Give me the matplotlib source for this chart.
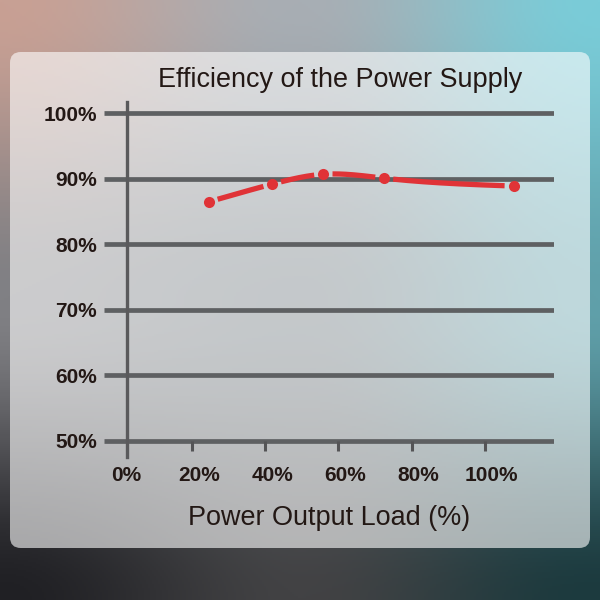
import numpy as np
import matplotlib
matplotlib.use("Agg")
import matplotlib.pyplot as plt
from matplotlib.patches import FancyBboxPatch
from matplotlib.transforms import ScaledTranslation

# ---- data ----
load_pct = [22.7, 40.0, 54.0, 70.6, 106.0]
efficiency_pct = [86.5, 89.2, 90.7, 90.1, 88.9]
x_ticks = [0, 20, 40, 60, 80, 100]
x_tick_labels = ["0%", "20%", "40%", "60%", "80%", "100%"]
y_ticks = [50, 60, 70, 80, 90, 100]
y_tick_labels = ["50%", "60%", "70%", "80%", "90%", "100%"]
title = "Efficiency of the Power Supply"
x_label = "Power Output Load (%)"

W = H = 600
fig = plt.figure(figsize=(6, 6), dpi=100)

# ---- background gradient ----
bg = fig.add_axes([0, 0, 1, 1], zorder=-10)
bg.axis("off")
grid = np.array([
    [[200, 160, 148], [168, 174, 180], [122, 204, 216]],
    [[128, 128, 132], [110, 120, 126], [96, 160, 170]],
    [[32, 32, 36], [66, 66, 68], [28, 58, 62]],
], dtype=float) / 255.0
n = 300
u = np.linspace(0, 1, n)
v = np.linspace(0, 1, n)
U, V = np.meshgrid(u, v)
def interp_axis(t):
    s = np.clip(t * 2, 0, 2)
    i = np.minimum(s.astype(int), 1)
    f = s - i
    f = f * f * (3 - 2 * f)
    return i, f
iu, fu = interp_axis(U)
iv, fv = interp_axis(V)
img = np.zeros((n, n, 3))
for c in range(3):
    g = grid[:, :, c]
    a = g[iv, iu] * (1 - fu) + g[iv, iu + 1] * fu
    b = g[iv + 1, iu] * (1 - fu) + g[iv + 1, iu + 1] * fu
    img[:, :, c] = a * (1 - fv) + b * fv
bg.imshow(img, extent=[0, 1, 0, 1], origin="upper", aspect="auto")
bg.set_xlim(0, 1); bg.set_ylim(0, 1)

# ---- frosted panel ----
px = lambda p: p / W
panel = FancyBboxPatch((px(10), 1 - px(548)), px(580), px(496),
                       boxstyle="round,pad=0,rounding_size=0.018",
                       transform=fig.transFigure, facecolor="white",
                       edgecolor="none", alpha=0.6, zorder=-5)
fig.patches.append(panel)

# ---- main axes ----
ax = fig.add_axes([px(104), 1 - px(460), px(450), px(360)])
ax.patch.set_alpha(0)
x0_px, x_scale = 125.8, 3.66
y50_px, y_scale = 441.0, 6.554
ax.set_xlim((104 - x0_px) / x_scale, (554 - x0_px) / x_scale)
ax.set_ylim(50 - (460 - y50_px) / y_scale, 50 + (y50_px - 100) / y_scale)

text_color = "#231815"
grid_color = "#5e6062"

for yt in y_ticks:
    ax.axhline(yt, color=grid_color, lw=3.4, zorder=1, solid_capstyle="butt")

for s in ["top", "right"]:
    ax.spines[s].set_visible(False)
ax.spines["bottom"].set_position(("data", 50))
ax.spines["bottom"].set_visible(False)
ax.spines["left"].set_position(("data", 0.4))
ax.spines["left"].set_bounds(50 - 16 / y_scale, 50 + (y50_px - 102) / y_scale)
ax.spines["left"].set_color("#5a5a5c")
ax.spines["left"].set_linewidth(2.4)
ax.spines["left"].set_zorder(2)

ax.set_yticks(y_ticks, y_tick_labels)
ax.set_xticks(x_ticks, x_tick_labels)
ax.tick_params(axis="y", length=0, pad=21.8, labelsize=15, labelcolor=text_color)
ax.tick_params(axis="x", direction="out", length=7.5, width=2.2, color="#545456",
               pad=10.6, labelsize=15, labelcolor=text_color)
for lab in ax.get_xticklabels() + ax.get_yticklabels():
    lab.set_fontfamily(["Liberation Sans", "DejaVu Sans"])
    lab.set_fontweight("bold")

off = ScaledTranslation(-7 / 100, 0, fig.dpi_scale_trans)
for i, tk in enumerate(ax.xaxis.get_major_ticks()):
    if i == 0:
        tk.tick1line.set_visible(False)
    else:
        tk.tick1line.set_transform(tk.tick1line.get_transform() + off)

# ---- smooth curve with gaps around markers ----
xs = np.array(load_pct); ys = np.array(efficiency_pct)
def natural_spline(x, y, xq):
    nn = len(x); h = np.diff(x)
    A = np.zeros((nn, nn)); r = np.zeros(nn)
    A[0, 0] = A[-1, -1] = 1
    for i in range(1, nn - 1):
        A[i, i - 1] = h[i - 1]; A[i, i] = 2 * (h[i - 1] + h[i]); A[i, i + 1] = h[i]
        r[i] = 3 * ((y[i + 1] - y[i]) / h[i] - (y[i] - y[i - 1]) / h[i - 1])
    c = np.linalg.solve(A, r)
    b = (np.diff(y) / h) - h * (2 * c[:-1] + c[1:]) / 3
    d = np.diff(c) / (3 * h)
    k = np.clip(np.searchsorted(x, xq) - 1, 0, nn - 2)
    t = xq - x[k]
    return y[k] + b[k] * t + c[k] * t ** 2 + d[k] * t ** 3
xq = np.linspace(xs[0], xs[-1], 800)
yq = natural_spline(xs, ys, xq)
qpx = ax.transData.transform(np.column_stack([xq, yq]))
mpx = ax.transData.transform(np.column_stack([xs, ys]))
mask = np.zeros(len(xq), bool)
for mx, my in mpx:
    mask |= np.hypot(qpx[:, 0] - mx, qpx[:, 1] - my) < 9.0
yq_m = yq.copy(); yq_m[mask] = np.nan
red = "#e03337"
ax.plot(xq, yq_m, color=red, lw=3.8, solid_capstyle="butt", zorder=3)
ax.plot(xs, ys, "o", color=red, ms=8, mec="none", zorder=4)

# ---- title and axis label ----
renderer = fig.canvas.get_renderer()
def fit(t, target_w):
    bb = t.get_window_extent(renderer)
    t.set_fontsize(t.get_fontsize() * target_w / bb.width)

tt = fig.text(px(340), 1 - px(80), title, ha="center", va="center",
              fontsize=18, color=text_color, family=["Liberation Sans", "DejaVu Sans"])
fit(tt, 365)
xl = fig.text(px(329), 1 - px(518), x_label, ha="center", va="center",
              fontsize=18, color=text_color, family=["Liberation Sans", "DejaVu Sans"])
fit(xl, 282)

fig.savefig("out.png", dpi=100)
